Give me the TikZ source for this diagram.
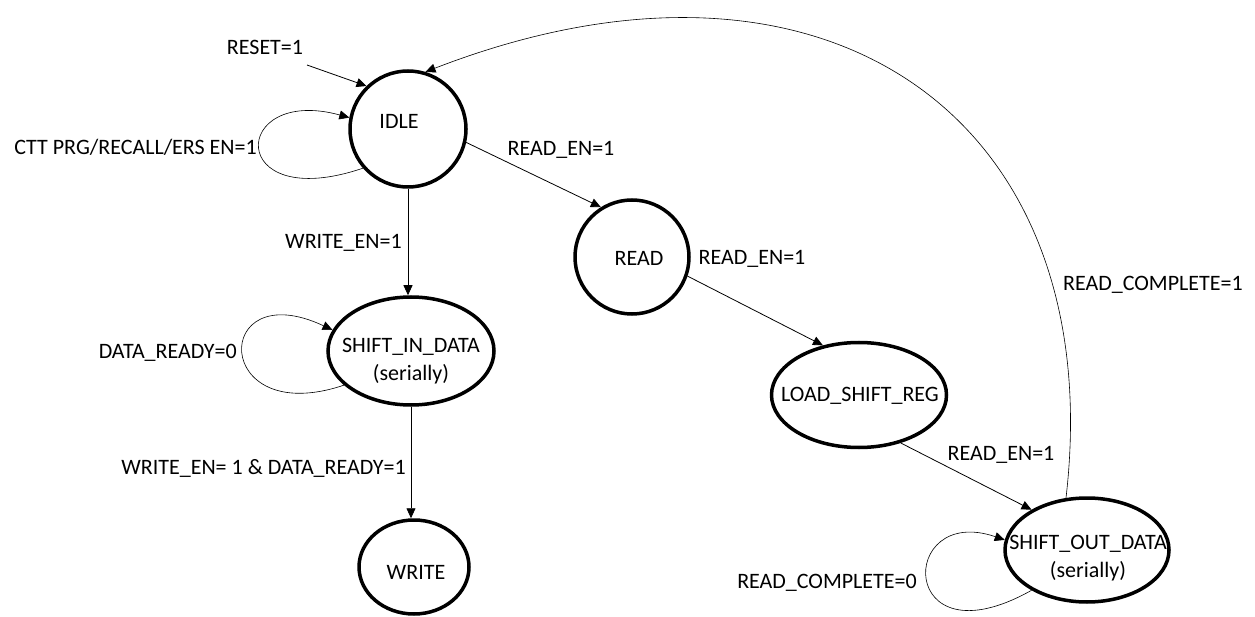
\documentclass[tikz,border=0pt]{standalone}
\usepackage{fontspec}
\setmainfont{Carlito}
\usetikzlibrary{arrows.meta,shapes.geometric}
\begin{document}
\begin{tikzpicture}[x=1pt,y=-1pt,
  every node/.style={font=\fontsize{22}{28}\selectfont, inner sep=0pt},
  st/.style={draw, line width=3.5pt, circle},
  el/.style={draw, line width=3.5pt, ellipse},
  tr/.style={line width=0.8pt, -{Triangle[length=10pt,width=9pt]}},
  lp/.style={line width=0.6pt, -{Triangle[length=10pt,width=9pt]}}]
\useasboundingbox (0,0) rectangle (1255,617);
% states
\node[st, minimum size=116pt] (idle) at (408,129) {};
\node (idlet) at (399,121) {IDLE};
\node[st, minimum size=114pt] (read) at (632,257) {};
\node (readt) at (639,258) {READ};
\node[el, minimum width=166pt, minimum height=108pt] (sin) at (411,351) {};
\node[align=center] (sint) at (411,361) {SHIFT\_IN\_DATA\\(serially)};
\node[el, minimum width=110pt, minimum height=94pt] (write) at (414,567) {};
\node (writet) at (416,572) {WRITE};
\node[el, minimum width=175pt, minimum height=105pt] (load) at (859,395) {};
\node (loadt) at (860,396) {LOAD\_SHIFT\_REG};
\node[el, minimum width=164pt, minimum height=104pt] (so) at (1087,550) {};
\node[align=center] (sot) at (1088,558) {SHIFT\_OUT\_DATA\\(serially)};
% labels
\node (rst) at (265,47) {RESET=1};
\coordinate (rsts) at (307,65);
\node[anchor=east] (ctt) at (257,147) {CTT PRG/RECALL/ERS EN=1};
\node (re1) at (561,150) {READ\_EN=1};
\node[anchor=west] (we1) at (285,243) {WRITE\_EN=1};
\node[anchor=east] (dr0) at (237,353) {DATA\_READY=0};
\node[anchor=east] (wd) at (406,468) {WRITE\_EN= 1 \& DATA\_READY=1};
\node (re2) at (752,259) {READ\_EN=1};
\node (re3) at (1001,455) {READ\_EN=1};
\node (rc0) at (827,583) {READ\_COMPLETE=0};
\node[anchor=west] (rc1) at (1063,285) {READ\_COMPLETE=1};
% transitions
\draw[tr] (rsts) -- (idle.134);
\draw[lp] (idle.221) .. controls (225,215) and (230,85) .. (idle.169);
\draw[tr] (idle.-13) -- (read.122);
\draw[tr] (idle.south) -- (idle.south |- sin.north);
\draw[lp] (sin.207) .. controls (211,430) and (211,273) .. (sin.165);
\draw[tr] (sin.south) -- (sin.south |- write.north);
\draw[tr] (read.-19) -- (load.126);
\draw[tr] (load.-49) -- (so.144);
\draw[lp] (so.216) .. controls (897,666) and (897,503) .. (so.173);
\draw[lp] (so.112) .. controls (1110,120) and (828,-84) .. (idle.73);
\end{tikzpicture}
\end{document}
